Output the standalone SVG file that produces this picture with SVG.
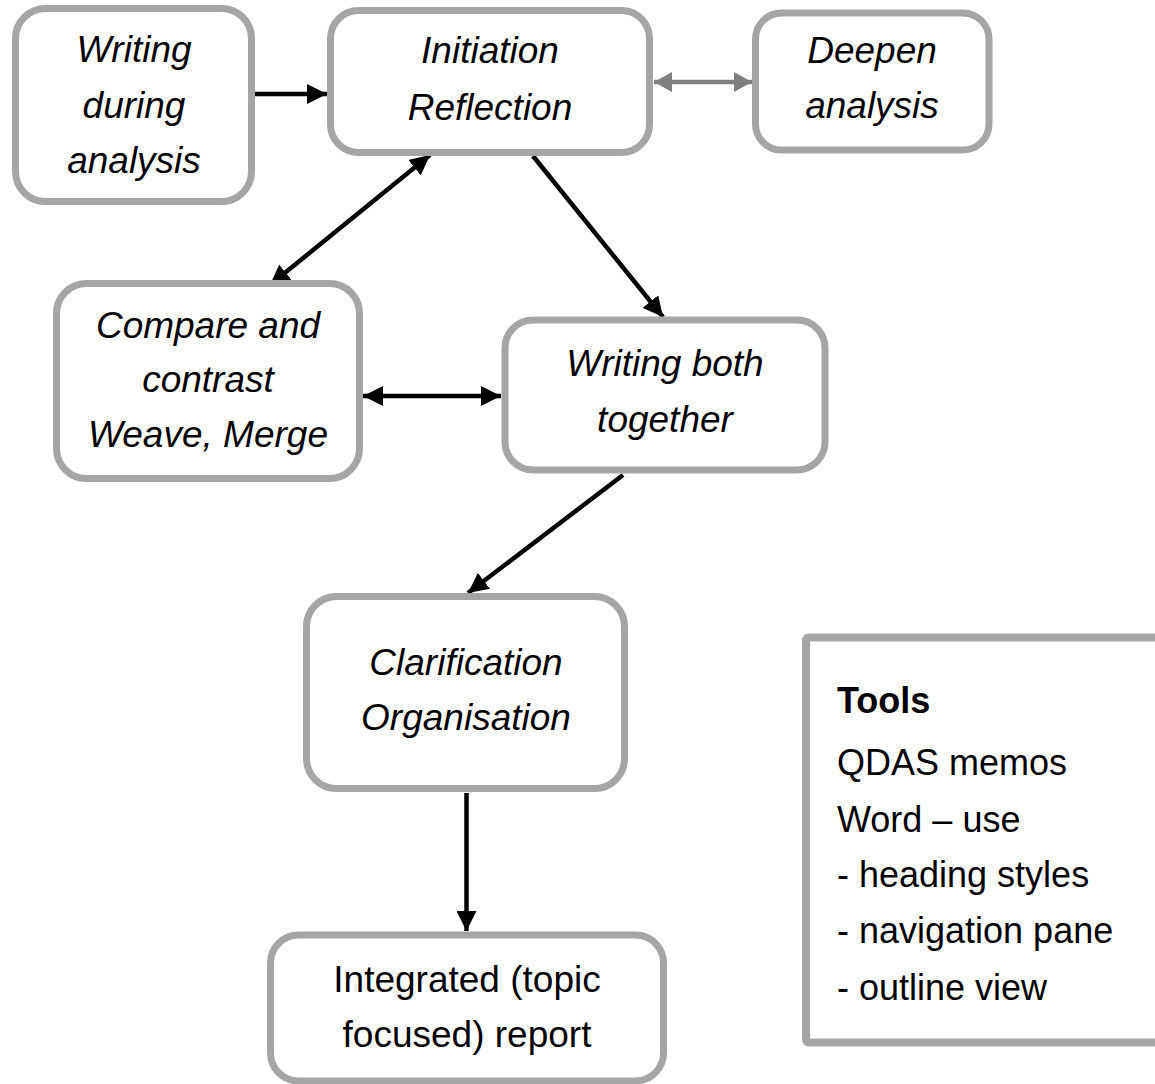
<svg xmlns="http://www.w3.org/2000/svg" width="1155" height="1084" viewBox="0 0 1155 1084">
<style>
.box{fill:#ffffff;stroke:#a5a5a5;stroke-width:7}
.t{font-family:"Liberation Sans",Arial,sans-serif;font-size:37px;fill:#000;text-anchor:middle}
.i{font-style:italic}
.tool{font-family:"Liberation Sans",Arial,sans-serif;font-size:36px;fill:#000}
.c{fill:none;stroke:#000;stroke-width:4.5}
.g{fill:none;stroke:#7f7f7f;stroke-width:4.5}
</style>
<defs>
<marker id="ah" viewBox="0 0 20 20" markerUnits="userSpaceOnUse" markerWidth="20" markerHeight="20" refX="20" refY="10" orient="auto-start-reverse">
<path d="M0,0 L20,10 L0,20 z" fill="#000"/>
</marker>
<marker id="ahg" viewBox="0 0 18 20" markerUnits="userSpaceOnUse" markerWidth="18" markerHeight="20" refX="18" refY="10" orient="auto-start-reverse">
<path d="M0,0 L18,10 L0,20 z" fill="#7f7f7f"/>
</marker>
</defs>
<rect width="1155" height="1084" fill="#ffffff"/>
<g id="connectors">
<line class="c" x1="255" y1="94" x2="327" y2="94" marker-end="url(#ah)"/>
<line class="g" x1="654" y1="82" x2="752" y2="82" marker-start="url(#ahg)" marker-end="url(#ahg)"/>
<line class="c" x1="430" y1="155" x2="270" y2="285" marker-start="url(#ah)" marker-end="url(#ah)"/>
<line class="c" x1="533" y1="156" x2="663" y2="317" marker-end="url(#ah)"/>
<line class="c" x1="363" y1="396" x2="501" y2="396" marker-start="url(#ah)" marker-end="url(#ah)"/>
<line class="c" x1="623" y1="475" x2="468" y2="593" marker-end="url(#ah)"/>
<line class="c" x1="466.5" y1="793" x2="466.5" y2="931" marker-end="url(#ah)"/>
</g>
<g id="writing-during">
<rect class="box" x="15.5" y="8.5" width="236" height="193" rx="30"/>
<text class="t i" x="134" y="62">Writing</text>
<text class="t i" x="134" y="118">during</text>
<text class="t i" x="134" y="173">analysis</text>
</g>
<g id="initiation">
<rect class="box" x="330.5" y="10.5" width="319" height="142" rx="28"/>
<text class="t i" x="490" y="63">Initiation</text>
<text class="t i" x="490" y="120">Reflection</text>
</g>
<g id="deepen">
<rect class="box" x="755.5" y="13" width="233.5" height="137" rx="26"/>
<text class="t i" x="872" y="63">Deepen</text>
<text class="t i" x="872" y="118">analysis</text>
</g>
<g id="compare">
<rect class="box" x="56.5" y="283.5" width="303" height="195" rx="30"/>
<text class="t i" x="208" y="338">Compare and</text>
<text class="t i" x="208" y="392">contrast</text>
<text class="t i" x="208" y="447">Weave, Merge</text>
</g>
<g id="writing-both">
<rect class="box" x="505" y="320" width="320" height="150" rx="28"/>
<text class="t i" x="665" y="376">Writing both</text>
<text class="t i" x="665" y="432">together</text>
</g>
<g id="clarification">
<rect class="box" x="306.5" y="596.5" width="318" height="192" rx="30"/>
<text class="t i" x="466" y="675">Clarification</text>
<text class="t i" x="466" y="730">Organisation</text>
</g>
<g id="integrated">
<rect class="box" x="270.5" y="935" width="393" height="146" rx="28"/>
<text class="t" x="467" y="992">Integrated (topic</text>
<text class="t" x="467" y="1047">focused) report</text>
</g>
<g id="tools">
<rect x="806" y="637.5" width="370" height="405" rx="3" fill="#ffffff" stroke="#a5a5a5" stroke-width="8"/>
<text class="tool" x="837" y="713" font-weight="bold">Tools</text>
<text class="tool" x="837" y="775">QDAS memos</text>
<text class="tool" x="837" y="832">Word – use</text>
<text class="tool" x="837" y="887">- heading styles</text>
<text class="tool" x="837" y="943">- navigation pane</text>
<text class="tool" x="837" y="1000">- outline view</text>
</g>
</svg>
